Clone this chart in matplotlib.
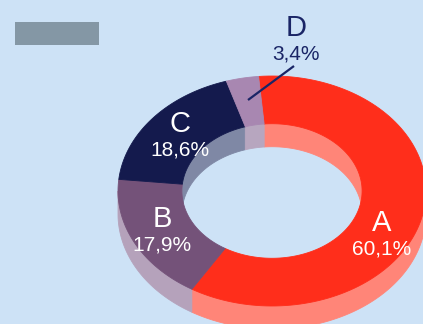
import numpy as np
import matplotlib.pyplot as plt
from matplotlib.patches import Rectangle

plt.rcParams['font.family'] = ['Liberation Sans', 'DejaVu Sans']

labels = ['A', 'B', 'C', 'D']
values = [60.1, 17.9, 18.6, 3.4]
value_text = ['60,1%', '17,9%', '18,6%', '3,4%']
top_colors = ['#ff2e1b', '#745279', '#141a4d', '#a887b1']
side_colors = ['#ff8578', '#b5a2bb', '#7f88a5', '#b7a6bf']
text_colors = ['white', 'white', 'white', '#1a2566']

bg = '#cde2f6'

# geometry of the tilted ring (pixel units, y down)
cx, cy = 272, 191
a, b = 154, 115
r_in = 0.585
depth = 23
start = 95.0


def ring_pt(t, r, dy=0):
    t = np.radians(t)
    return cx + a * r * np.cos(t), cy - b * r * np.sin(t) + dy


def arc(t0, t1, r, dy=0, n=120):
    ts = np.linspace(t0, t1, n)
    return ring_pt(ts, r, dy)


def wall(ax, t0, t1, r, color):
    x1, y1 = arc(t0, t1, r)
    x2, y2 = arc(t1, t0, r, depth)
    ax.fill(np.r_[x1, x2], np.r_[y1, y2], color=color, lw=0.6, ec=color)


fig = plt.figure(figsize=(4.23, 3.24), dpi=100)
fig.patch.set_facecolor(bg)
ax = fig.add_axes([0, 0, 1, 1])
ax.set_xlim(0, 423)
ax.set_ylim(324, 0)
ax.axis('off')

fracs = np.array(values) / sum(values)
bounds = start - 360 * np.r_[0, np.cumsum(fracs)]
slices = list(zip(bounds[:-1], bounds[1:]))

# outer wall, front half only (angles -180..0)
for (t0, t1), col in zip(slices, side_colors):
    lo, hi = max(t1, -180), min(t0, 0)
    if hi > lo:
        wall(ax, hi, lo, 1.0, col)

# inner wall seen through the hole, back half (0..180 and -360..-180)
for (t0, t1), col in zip(slices, side_colors):
    for wlo, whi in [(0, 180), (-360, -180)]:
        lo, hi = max(t1, wlo), min(t0, whi)
        if hi > lo:
            wall(ax, hi, lo, r_in, col)

# top face
for (t0, t1), col in zip(slices, top_colors):
    xo, yo = arc(t0, t1, 1.0)
    xi, yi = arc(t1, t0, r_in)
    ax.fill(np.r_[xo, xi], np.r_[yo, yi], color=col, lw=0.6, ec=col)

# data labels
label_pos = [(382, 223), (162, 219), (180, 124), (296, 28)]
for (x, y), name, txt, tc in zip(label_pos, labels, value_text, text_colors):
    ax.text(x, y, name, fontsize=21, color=tc, ha='center', va='center')
    ax.text(x, y + 26, txt, fontsize=15, color=tc, ha='center', va='center')

# leader line for the small slice
ax.plot([294, 248], [66, 100], color='#1a2566', lw=1.6, solid_capstyle='butt')

# grey box in the upper left corner
ax.add_patch(Rectangle((15, 22), 84, 23, color='#8497a5', lw=0))

fig.savefig('out.png', dpi=100, facecolor=bg)
